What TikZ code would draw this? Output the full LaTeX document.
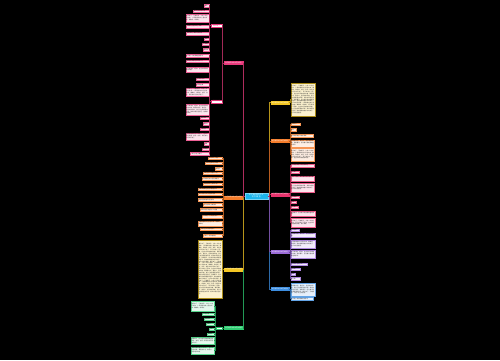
\documentclass[tikz,border=0pt]{standalone}
\usepackage{fontspec}
\setmainfont{Noto Sans CJK SC}
\XeTeXlinebreaklocale "zh"
\XeTeXlinebreakskip=0pt plus 0.3pt
\definecolor{cM}{HTML}{E83A7C}
\definecolor{cO}{HTML}{F57C2A}
\definecolor{cY}{HTML}{F3C623}
\definecolor{cG}{HTML}{2ECC71}
\definecolor{cP}{HTML}{E8336D}
\definecolor{cV}{HTML}{9B6BD8}
\definecolor{cB}{HTML}{3C8DE0}
\definecolor{cC}{HTML}{1CB5EC}
\newcommand\txA{春天来了，万物复苏，大地一片生机勃勃。}
\newcommand\txB{小草偷偷地从土里钻出来，嫩嫩的，绿绿的。}
\newcommand\txC{桃花、杏花、梨花争先恐后地开放了。}
\newcommand\txD{燕子从南方飞回来，在空中叽叽喳喳地叫着。}
\newcommand\txE{春雨像牛毛，像花针，密密地斜织着。}
\newcommand\txF{孩子们在田野里放风筝，笑声传得很远很远。}
\newcommand\txG{我爱春天，因为春天是充满希望的季节。}
\newcommand\txH{柳树姑娘梳着长长的辫子，在风中轻轻摇摆。}
\newcommand\bx[7]{%
  \pgfmathsetmacro\bxw{#5-#3}%
  \pgfmathsetmacro\bxh{#6-#4}%
  \pgfmathsetmacro\bxx{(#3+#5)/2}%
  \pgfmathsetmacro\bxy{(#4+#6)/2}%
  \pgfmathsetmacro\bxt{#5-#3-1}%
  \node[#1, minimum width=\bxw pt, minimum height=\bxh pt, text width=\bxt pt] (#2) at (\bxx,\bxy) {#7};%
}
\tikzset{
  every node/.style={inner xsep=0.5pt, inner ysep=0.2pt, align=left, text=black!80},
  lf/.style={draw=#1!80, fill=#1!13, line width=0.2pt, font=\fontsize{1.4}{1.9}\selectfont},
  lfy/.style={draw=#1!70!black, fill=#1!22, line width=0.2pt, font=\fontsize{1.4}{1.9}\selectfont},
  sb/.style={draw=#1, fill=white, line width=0.3pt, text=#1!80!black, font=\fontsize{1.5}{1.9}\selectfont, align=center},
  br/.style={draw=#1, fill=#1, text=white, line width=0.3pt, font=\fontsize{1.5}{1.9}\selectfont, align=center},
  tk/.style={draw=#1!75!black, line width=0.5pt},
  lk/.style={draw=#1!70!black, line width=0.35pt},
}
\begin{document}
\begin{tikzpicture}[x=1pt, y=-1pt]
\fill[black] (0,0) rectangle (500,360);
\useasboundingbox (0,0) rectangle (500,360);
% central
\bx{br=cC, draw=cC!60!white, line width=0.4pt, font=\fontsize{1.8}{2.3}\selectfont}{C}{244.7}{192.7}{267.7}{199.3}{关于春天的作文\\范文精选}
% left branches
\bx{br=cM}{L1}{224.3}{61.5}{243.3}{64.5}{关于春天的作文范文篇一}
\bx{br=cO}{L2}{224.3}{195.8}{243.3}{198.8}{关于春天的作文范文篇二}
\bx{br=cY}{L3}{224.3}{267.8}{243.3}{270.8}{关于春天的作文范文篇三}
\bx{br=cG}{L4}{224.3}{326.5}{243.3}{329.5}{关于春天的作文范文篇四}
% right branches
\bx{br=cY}{R1}{270.7}{101}{289.3}{104}{关于春天的作文范文篇五}
\bx{br=cO}{R2}{270.7}{139.3}{289.3}{142.3}{关于春天的作文范文篇六}
\bx{br=cP}{R3}{270.7}{192.7}{289.3}{195.7}{关于春天的作文范文篇七}
\bx{br=cV}{R4}{270.7}{250.2}{289.3}{253.2}{关于春天的作文范文篇八}
\bx{br=cB}{R5}{270.7}{287.3}{289.3}{290.3}{关于春天的作文范文篇九}
% magenta subnodes
\bx{sb=cM}{A}{211.5}{24}{221.7}{27}{春天来了}
\bx{sb=cM}{B}{211.5}{99.8}{221.7}{102.8}{春天的景色}
% A leaves
\bx{lf=cM}{a1}{204.3}{4.3}{208.8}{6.7}{春风}
\bx{lf=cM}{a2}{193.3}{9.9}{208.8}{12.4}{春风轻轻吹过大地}
\bx{lf=cM}{a3}{185.7}{14.3}{208.8}{21.7}{\txA\txB}
\bx{lf=cM}{a4}{185.7}{24.9}{208.8}{27.9}{小草从泥土里探出了头来}
\bx{lf=cM}{a5}{186.3}{31.7}{208.8}{34.7}{柳树抽出了嫩绿的新枝条}
\bx{lf=cM}{a6}{204.3}{37.9}{208.8}{40.3}{花开}
\bx{lf=cM}{a7}{201.7}{42.7}{208.8}{45.1}{鸟儿歌唱}
\bx{lf=cM}{a8}{203.3}{48.3}{208.8}{50.7}{燕归来}
% B leaves
\bx{lf=cM}{b1}{185.7}{54}{208.8}{57}{春天是一个充满希望的季节}
\bx{lf=cM}{b2}{185.7}{59.8}{208.8}{62.5}{田野里到处都是忙碌的人们}
\bx{lf=cM}{b3}{185.7}{67.3}{208.8}{71.7}{\txD}
\bx{lf=cM}{b4}{195.7}{77.7}{208.8}{80.5}{桃花红梨花白}
\bx{lf=cM}{b5}{195.7}{83.2}{208.8}{85.8}{油菜花金黄}
\bx{lf=cM}{b6}{185.7}{87.7}{208.8}{96}{\txA\txB\txC}
\bx{lf=cM}{b7}{185.7}{104.3}{208.8}{115}{\txD\txE\txF 处处都是美景。}
\bx{lf=cM}{b8}{200}{117.1}{208.8}{119.5}{春雨绵绵}
\bx{lf=cM}{b9}{203}{122.3}{208.8}{124.7}{细无声}
\bx{lf=cM}{b10}{200}{127.7}{208.8}{130.1}{万物复苏}
\bx{lf=cM}{b11}{185.7}{132.7}{208.8}{140}{\txH\txC}
\bx{lf=cM}{b12}{204}{142.5}{208.8}{144.9}{春耕}
\bx{lf=cM}{b13}{201.7}{147.6}{208.8}{150}{播种希望}
\bx{lf=cM}{b14}{190}{152.3}{208.8}{154.7}{一年之计在于春天}
% orange left leaves
\bx{lf=cO}{o1}{208}{156.7}{222}{159.3}{春天来到了校园}
\bx{lf=cO}{o2}{205}{161.7}{222}{164.1}{同学们在操场上奔跑}
\bx{lf=cO}{o3}{215}{167.3}{222}{169.7}{放风筝}
\bx{lf=cO}{o4}{203}{171.7}{222}{174.3}{风筝在蓝天中自由飞翔}
\bx{lf=cO}{o5}{201.7}{177.3}{222}{180}{老师带我们去公园寻找春天}
\bx{lf=cO}{o6}{203}{182.6}{222}{185.1}{公园里的花儿竞相开放}
\bx{lf=cO}{o7}{198}{187.7}{222}{190.3}{蜜蜂和蝴蝶在花丛中翩翩起舞}
\bx{lf=cO}{o8}{198}{192.7}{222}{195.3}{湖水清澈见底小鱼游来游去}
\bx{lf=cO}{o9}{198}{198.2}{222}{200.8}{岸边的垂柳随风轻轻摆动}
\bx{lf=cO}{o10}{203}{203.2}{222}{205.8}{我们在草地上做游戏}
\bx{lf=cO}{o11}{200}{208.3}{222}{211}{欢声笑语回荡在整个公园里}
\bx{lf=cO}{o12}{201.7}{215}{222}{217.7}{春天真是一个美丽的季节}
\bx{lf=cO}{o13}{198}{221}{222}{225.7}{\txB}
\bx{lf=cO}{o14}{200}{227.7}{222}{230.2}{我爱这生机勃勃的春天}
\bx{lf=cO}{o15}{203}{234.3}{222}{236.8}{让我们一起珍惜春光}
% yellow left leaf
\bx{lfy=cY}{yl}{198.3}{240}{221.7}{298.3}{\txA\txB\txC\txD\txE\txF\txG\txH\txA\txB\txC\txD\txE\txF\txG\txH\txA\txB\txC\txD\txE\txF}
% green
\bx{sb=cG}{g0}{216}{327}{222.3}{329.5}{结尾}
\bx{lf=cG}{g1}{191}{301}{214.3}{310.7}{\txA\txB}
\bx{lf=cG}{g2}{201.7}{313.1}{214.3}{315.5}{春天在哪里}
\bx{lf=cG}{g3}{204}{317.8}{214.3}{320.2}{在花丛中}
\bx{lf=cG}{g4}{206}{322.6}{214.3}{325.1}{在枝头}
\bx{lf=cG}{g5}{209.3}{327.6}{214.3}{330.1}{心中}
\bx{lf=cG}{g6}{207.3}{332.6}{214.3}{335.1}{在田野}
\bx{lf=cG}{g7}{191}{337.3}{214.3}{344}{\txG\txC}
\bx{lf=cG}{g8}{191}{346.7}{214.3}{354}{\txH\txE}
% right yellow leaf
\bx{lfy=cY}{ry}{290.7}{83.3}{314.8}{115.7}{\txA\txB\txC\txD\txE\txF\txG\txH\txB\txD\txF\txH}
% right orange leaves
\bx{lf=cO}{ro1}{290.7}{123.1}{300}{125.4}{春暖花开}
\bx{lf=cO}{ro2}{290.7}{128.3}{296}{130.7}{春光}
\bx{lf=cO}{ro3}{290.7}{134}{313.3}{137.3}{春天的早晨空气格外清新}
\bx{lf=cO}{ro4}{290.7}{140}{314.5}{146.7}{\txE\txG}
\bx{lf=cO}{ro5}{290.7}{148.3}{314.5}{161}{\txA\txB\txC\txD}
% right pink leaves
\bx{lf=cP}{rp1}{290.7}{164}{314.5}{166.7}{春天是画家把大地涂成绿色}
\bx{lf=cP}{rp2}{290.7}{171}{299}{173.4}{春之歌}
\bx{lf=cP}{rp3}{290.7}{176}{314.5}{180.7}{\txC}
\bx{lf=cP}{rp4}{290.7}{183.3}{314.5}{191.7}{\txF\txH}
\bx{lf=cP}{rp5}{290.7}{195.8}{299.3}{198.2}{春天的梦}
\bx{lf=cP}{rp6}{290.7}{201}{296}{203.4}{春意}
\bx{lf=cP}{rp7}{290.7}{205.8}{298.3}{208.2}{春之韵}
\bx{lf=cP}{rp8}{290.7}{211}{315}{216}{\txG}
\bx{lf=cP}{rp9}{290.7}{218.3}{315}{226.7}{\txA\txD 春天真美。}
% right purple leaves
\bx{lf=cV}{rv1}{290.7}{229.1}{299.3}{231.5}{春天色彩}
\bx{lf=cV}{rv2}{290.7}{233.3}{315}{237.5}{\txE}
\bx{lf=cV}{rv3}{290.7}{240}{315}{248.3}{\txB\txH}
\bx{lf=cV}{rv4}{290.7}{250}{315}{258.3}{\txD\txG}
\bx{lf=cV}{rv5}{290.7}{262.6}{306.7}{265.1}{春天的声音真好听}
\bx{lf=cV}{rv6}{290.7}{267.6}{300}{270.1}{春风吹}
\bx{lf=cV}{rv7}{290.7}{272.6}{295}{275.1}{春雨}
\bx{lf=cV}{rv8}{290.7}{277.3}{300}{279.9}{春之歌}
% right blue leaves
\bx{lf=cB}{rb1}{290.7}{283.3}{315}{296}{\txE\txF\txG\txA}
\bx{lf=cB}{rb2}{290.7}{297.3}{312.7}{300}{春天是一年中最美好的季节}
% trunk connectors
\draw[tk=cG] (C.west) -- ++(-0.9,0) |- (L4.east);
\draw[tk=cY] (C.west) -- ++(-0.9,0) |- (L3.east);
\draw[tk=cO] (C.west) -- ++(-0.9,0) |- (L2.east);
\draw[tk=cM] (C.west) -- ++(-0.9,0) |- (L1.east);
\draw[tk=cB] (C.east) -- ++(1.8,0) |- (R5.west);
\draw[tk=cV] (C.east) -- ++(1.8,0) |- (R4.west);
\draw[tk=cY] (C.east) -- ++(1.8,0) |- (R1.west);
\draw[tk=cO] (C.east) -- ++(1.8,0) |- (R2.west);
\draw[tk=cP] (C.east) -- ++(1.8,0) |- (R3.west);
% sub connectors
\draw[lk=cM] (L1.west) -- ++(-1.5,0) |- (A.east);
\draw[lk=cM] (L1.west) -- ++(-1.5,0) |- (B.east);
\foreach \n in {a1,a2,a3,a4,a5,a6,a7,a8}
  \draw[lk=cM] (A.west) -- ++(-1.7,0) |- (\n.east);
\foreach \n in {b1,b2,b3,b4,b5,b6,b7,b8,b9,b10,b11,b12,b13,b14}
  \draw[lk=cM] (B.west) -- ++(-1.7,0) |- (\n.east);
\foreach \n in {o1,o2,o3,o4,o5,o6,o7,o8,o9,o10,o11,o12,o13,o14,o15}
  \draw[lk=cO] (L2.west) -- ++(-1.2,0) |- (\n.east);
\draw[lk=cY] (L3.west) -- ++(-1.3,0) |- (yl.east);
\draw[lk=cG] (L4.west) -- ++(-1,0) |- (g0.east);
\foreach \n in {g1,g2,g3,g4,g5,g6,g7,g8}
  \draw[lk=cG] (g0.west) -- ++(-0.8,0) |- (\n.east);
\draw[lk=cY] (R1.east) -- ++(0.7,0) |- (ry.west);
\foreach \n in {ro1,ro2,ro3,ro4,ro5}
  \draw[lk=cO] (R2.east) -- ++(0.7,0) |- (\n.west);
\foreach \n in {rp1,rp2,rp3,rp4,rp5,rp6,rp7,rp8,rp9}
  \draw[lk=cP] (R3.east) -- ++(0.7,0) |- (\n.west);
\foreach \n in {rv1,rv2,rv3,rv4,rv5,rv6,rv7,rv8}
  \draw[lk=cV] (R4.east) -- ++(0.7,0) |- (\n.west);
\foreach \n in {rb1,rb2}
  \draw[lk=cB] (R5.east) -- ++(0.7,0) |- (\n.west);
\end{tikzpicture}
\end{document}
